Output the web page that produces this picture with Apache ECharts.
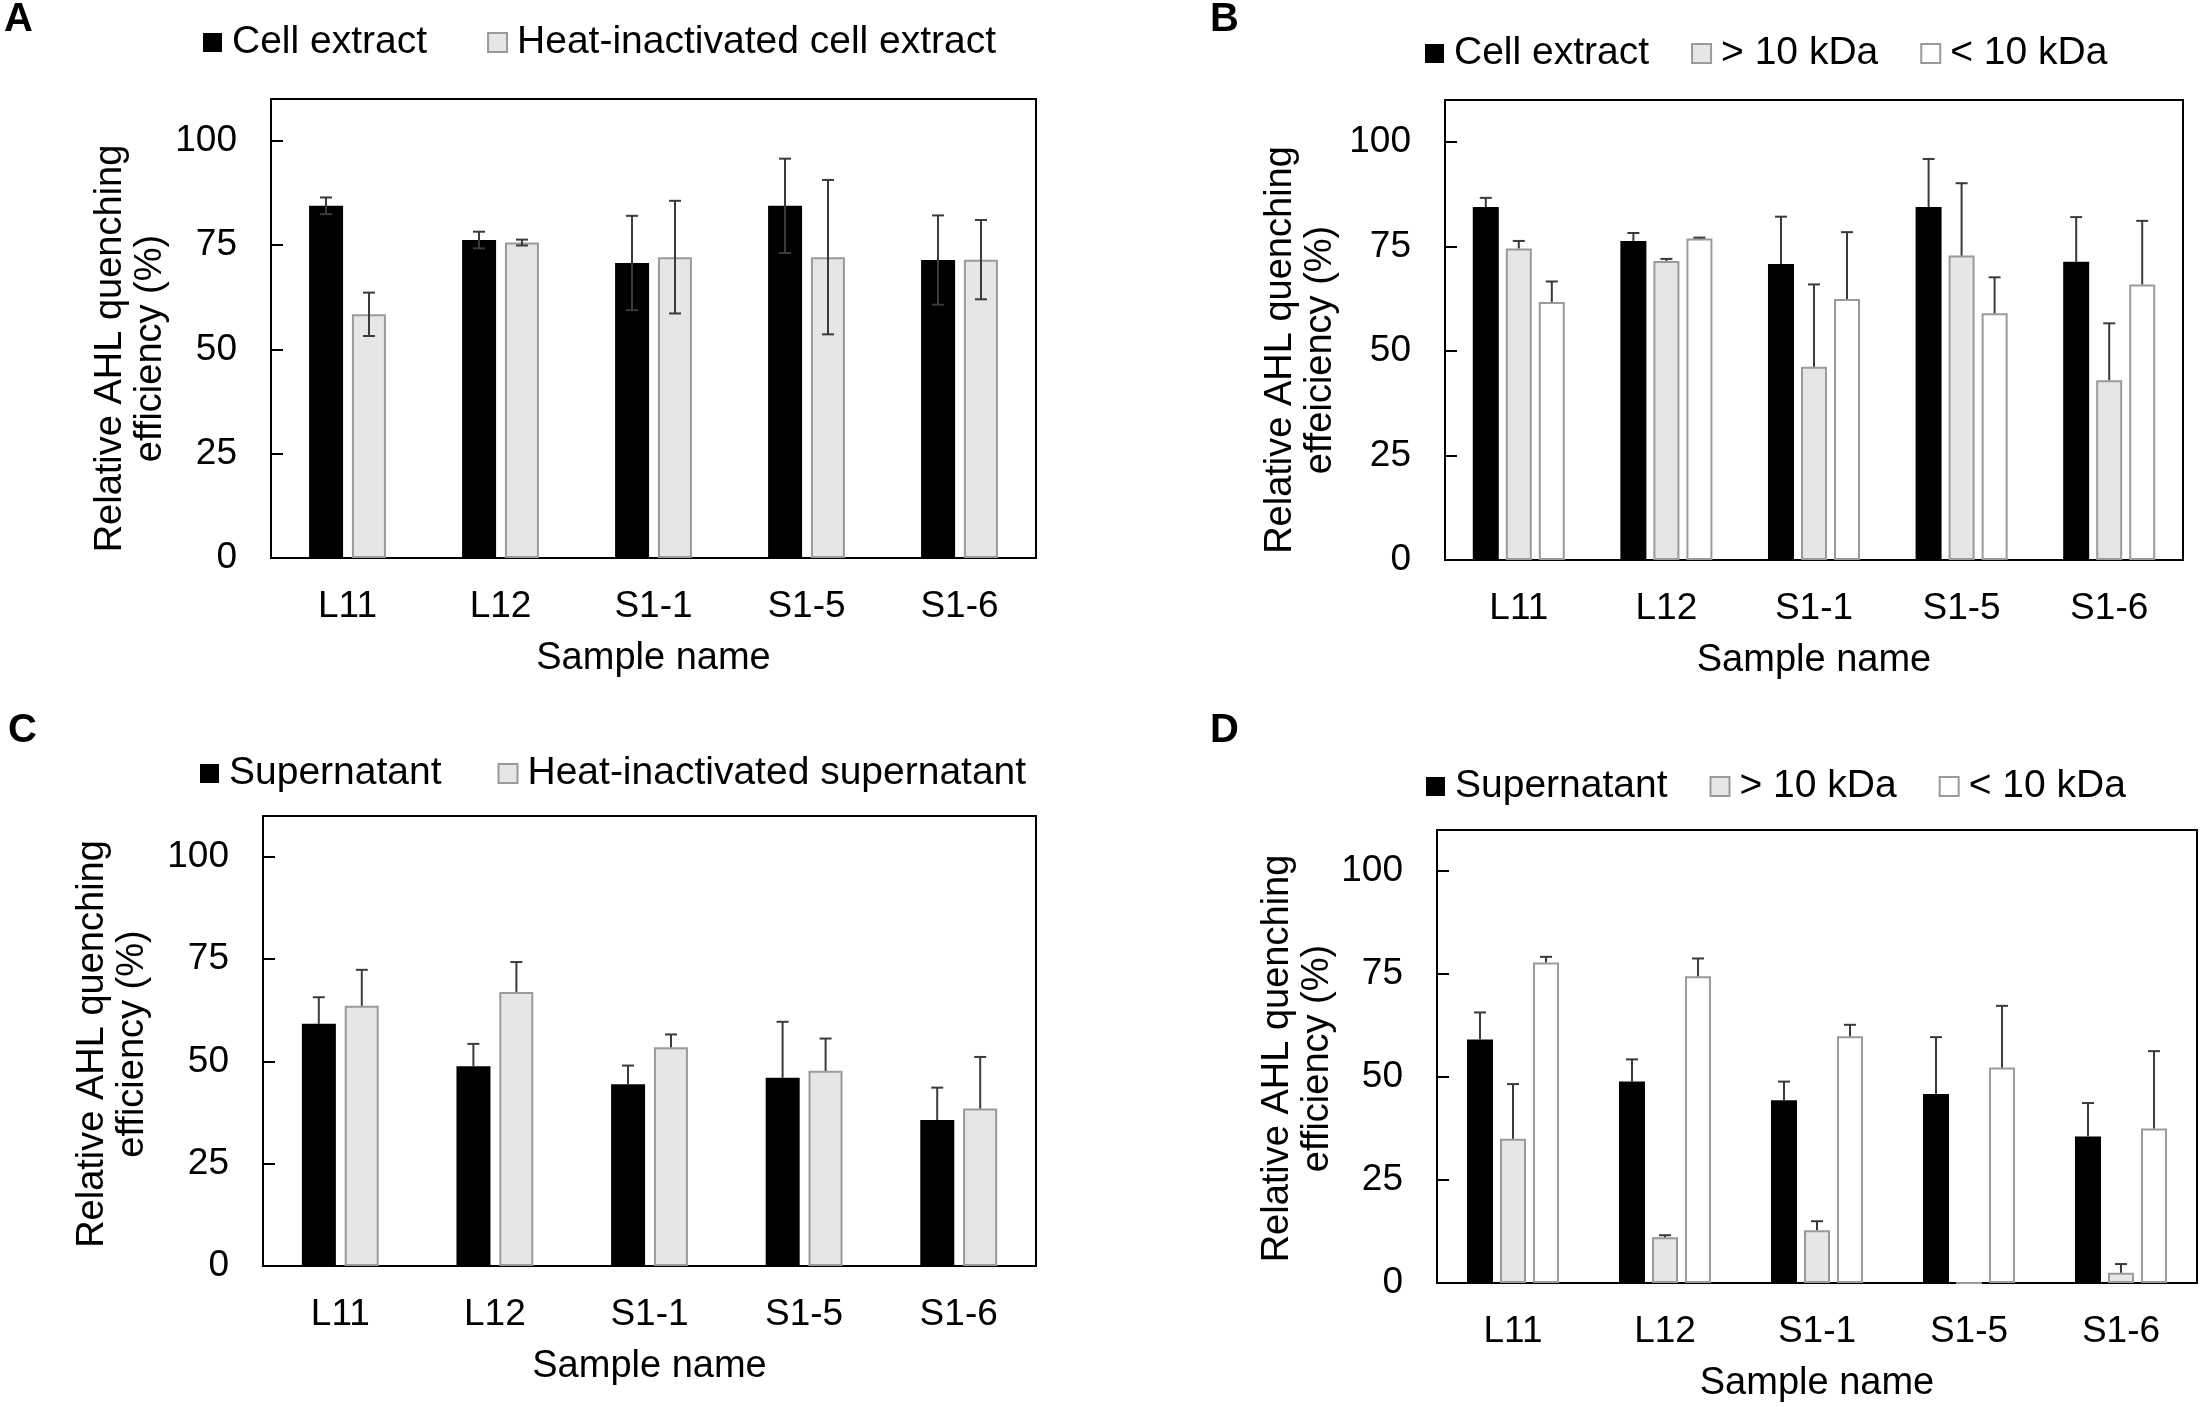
<!DOCTYPE html>
<html>
<head>
<meta charset="utf-8">
<title>AHL quenching efficiency</title>
<script src="https://cdn.jsdelivr.net/npm/echarts@6/dist/echarts.min.js"></script>
<style>
  html, body { margin: 0; padding: 0; background: #fff; }
  #chart { width: 2202px; height: 1407px; }
</style>
</head>
<body>
<div id="chart"></div>
<script>
// sample names on the x axis and labelled y ticks
var samples = ['L11', 'L12', 'S1-1', 'S1-5', 'S1-6'];
var yTicks = [0, 25, 50, 75, 100];

// A: cell extract vs heat-inactivated (mean, sd)
var aCell = [84.4, 76.2, 70.7, 84.4, 71.4];
var aCellSd = [2.0, 2.0, 11.3, 11.3, 10.7];
var aHeat = [58.4, 75.6, 72.1, 72.1, 71.5];
var aHeatSd = [5.2, 0.7, 13.5, 18.5, 9.5];

// B: cell extract fractions
var bCell = [84.4, 76.3, 70.8, 84.4, 71.3];
var bCellSd = [2.2, 1.9, 11.3, 11.5, 10.7];
var bHigh = [74.5, 71.5, 46.2, 72.8, 43.0];
var bHighSd = [1.8, 0.5, 19.7, 17.3, 13.6];
var bLow = [61.7, 76.9, 62.4, 59.0, 65.9];
var bLowSd = [4.9, 0.2, 16.0, 8.6, 15.2];

// C: supernatant vs heat-inactivated
var cSup = [59.2, 48.8, 44.4, 46.0, 35.7];
var cSupSd = [6.5, 5.5, 4.6, 13.7, 7.9];
var cHeat = [63.6, 67.0, 53.5, 47.7, 38.5];
var cHeatSd = [8.8, 7.3, 3.1, 7.9, 12.6];

// D: supernatant fractions
var dSup = [59.1, 48.9, 44.4, 45.9, 35.6];
var dSupSd = [6.6, 5.4, 4.5, 13.8, 8.1];
var dHigh = [35.0, 11.1, 12.8, 0, 2.5];
var dHighSd = [13.3, 0.5, 2.2, 0, 2.1];
var dLow = [77.8, 74.5, 59.9, 52.3, 37.5];
var dLowSd = [1.4, 4.3, 2.8, 15.0, 18.8];

var FONT = '"Liberation Sans", Arial, sans-serif';

var styles = {
    black: { color: '#000000' },
    gray: { color: '#e6e6e6', borderColor: '#9a9a9a', borderWidth: 2 },
    white: { color: '#ffffff', borderColor: '#9a9a9a', borderWidth: 2 }
};

var panels = [
    {
        letter: 'A', letterPos: [4, 0],
        grid: { left: 271, top: 99, width: 765, height: 459 },
        legend: { left: 203, top: 23, itemGap: 60 },
        yName: 'Relative AHL quenching\nefficiency (%)', nameGap: 100, namePad: [0, 40, 0, 0],
        barWidth: 34, gap: 9, twoSided: true,
        series: [
            { name: 'Cell extract', values: aCell, sd: aCellSd, style: 'black' },
            { name: 'Heat-inactivated cell extract', values: aHeat, sd: aHeatSd, style: 'gray' }
        ]
    },
    {
        letter: 'B', letterPos: [1210, 0],
        grid: { left: 1445, top: 100, width: 738, height: 460 },
        legend: { left: 1425, top: 34, itemGap: 42 },
        yName: 'Relative AHL quenching\neffeiciency (%)', nameGap: 104, namePad: [0, 40, 0, 0],
        barWidth: 26, gap: 7, twoSided: false,
        series: [
            { name: 'Cell extract', values: bCell, sd: bCellSd, style: 'black' },
            { name: '> 10 kDa', values: bHigh, sd: bHighSd, style: 'gray' },
            { name: '< 10 kDa', values: bLow, sd: bLowSd, style: 'white' }
        ]
    },
    {
        letter: 'C', letterPos: [8, 711],
        grid: { left: 263, top: 816, width: 773, height: 450 },
        legend: { left: 200, top: 754, itemGap: 56 },
        yName: 'Relative AHL quenching\nefficiency (%)', nameGap: 110, namePad: [0, 6, 0, 0],
        barWidth: 34, gap: 9, twoSided: false,
        series: [
            { name: 'Supernatant', values: cSup, sd: cSupSd, style: 'black' },
            { name: 'Heat-inactivated supernatant', values: cHeat, sd: cHeatSd, style: 'gray' }
        ]
    },
    {
        letter: 'D', letterPos: [1210, 711],
        grid: { left: 1437, top: 830, width: 760, height: 453 },
        legend: { left: 1426, top: 767, itemGap: 42 },
        yName: 'Relative AHL quenching\nefficiency (%)', nameGap: 96, namePad: [0, 4, 0, 0],
        barWidth: 26, gap: 7, twoSided: false,
        series: [
            { name: 'Supernatant', values: dSup, sd: dSupSd, style: 'black' },
            { name: '> 10 kDa', values: dHigh, sd: dHighSd, style: 'gray' },
            { name: '< 10 kDa', values: dLow, sd: dLowSd, style: 'white' }
        ]
    }
];

// error bar drawn at the bar's offset inside its category
function errorBar(offset, twoSided) {
    return function (params, api) {
        var i = api.value(0);
        var lo = api.value(1);
        var hi = api.value(2);
        if (!(hi > lo)) {
            return null;
        }
        var pTop = api.coord([i, hi]);
        var pBot = api.coord([i, lo]);
        var x = pTop[0] + offset;
        var st = { stroke: '#3a3a3a', lineWidth: 2 };
        var kids = [
            { type: 'line', shape: { x1: x, y1: pTop[1], x2: x, y2: pBot[1] }, style: st },
            { type: 'line', shape: { x1: x - 6, y1: pTop[1], x2: x + 6, y2: pTop[1] }, style: st }
        ];
        if (twoSided) {
            kids.push({ type: 'line', shape: { x1: x - 6, y1: pBot[1], x2: x + 6, y2: pBot[1] }, style: st });
        }
        return { type: 'group', children: kids };
    };
}

var option = {
    animation: false,
    backgroundColor: '#ffffff',
    textStyle: { fontFamily: FONT, color: '#000' },
    grid: [], xAxis: [], yAxis: [], legend: [], series: [], graphic: []
};

panels.forEach(function (p, gi) {
    option.grid.push({
        left: p.grid.left, top: p.grid.top, width: p.grid.width, height: p.grid.height,
        show: true, borderColor: '#000', borderWidth: 2, backgroundColor: 'transparent'
    });
    option.xAxis.push({
        type: 'category', gridIndex: gi, data: samples,
        name: 'Sample name', nameLocation: 'middle', nameGap: 82,
        nameTextStyle: { fontSize: 38, color: '#000', fontFamily: FONT },
        axisLine: { lineStyle: { color: '#000', width: 2 } },
        axisTick: { show: false },
        axisLabel: { fontSize: 37, color: '#000', margin: 30, fontFamily: FONT }
    });
    option.yAxis.push({
        type: 'value', gridIndex: gi, min: 0, max: 110, interval: 25,
        name: p.yName, nameLocation: 'middle', nameGap: p.nameGap,
        nameTextStyle: { fontSize: 38, lineHeight: 40, color: '#000', fontFamily: FONT, padding: p.namePad },
        axisLine: { show: true, lineStyle: { color: '#000', width: 2 } },
        axisTick: { show: true, inside: true, length: 12, customValues: yTicks, lineStyle: { color: '#000', width: 2 } },
        axisLabel: { fontSize: 37, color: '#000', margin: 34, customValues: yTicks, fontFamily: FONT },
        splitLine: { show: false }
    });
    option.legend.push({
        left: p.legend.left, top: p.legend.top, padding: 0,
        itemGap: p.legend.itemGap, itemWidth: 19, itemHeight: 19, icon: 'rect',
        selectedMode: false,
        data: p.series.map(function (s) { return s.name; }),
        textStyle: { fontSize: 39, color: '#000', fontFamily: FONT, padding: [0, 0, 0, 5] }
    });

    var n = p.series.length;
    p.series.forEach(function (s, k) {
        option.series.push({
            type: 'bar', name: s.name,
            xAxisIndex: gi, yAxisIndex: gi,
            data: s.values, barWidth: p.barWidth,
            barGap: Math.round(p.gap / p.barWidth * 100) + '%',
            itemStyle: styles[s.style],
            emphasis: { disabled: true }
        });
        var offset = (k - (n - 1) / 2) * (p.barWidth + p.gap);
        var errData = s.values.map(function (v, i) {
            var lo = p.twoSided ? v - s.sd[i] : v;
            return [i, lo, v + s.sd[i]];
        });
        option.series.push({
            type: 'custom', xAxisIndex: gi, yAxisIndex: gi,
            renderItem: errorBar(offset, p.twoSided),
            encode: { x: 0, y: [1, 2] },
            data: errData, z: 5, silent: true
        });
    });

    option.graphic.push({
        type: 'text', left: p.letterPos[0], top: p.letterPos[1],
        style: { text: p.letter, fill: '#000', font: 'bold 40px ' + FONT }
    });
});

var myChart = echarts.init(document.getElementById('chart'));
myChart.setOption(option);
</script>
</body>
</html>
